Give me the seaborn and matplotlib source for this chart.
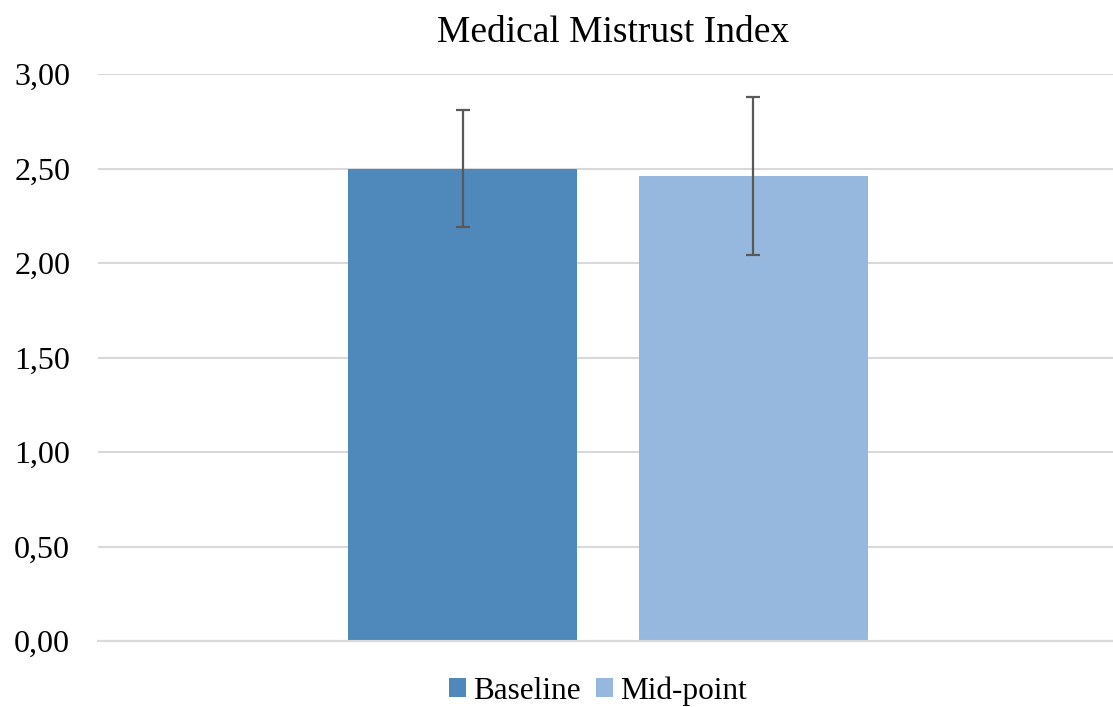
import matplotlib
matplotlib.use("Agg")
import matplotlib.pyplot as plt
import seaborn as sns
import pandas as pd
from matplotlib.patches import Patch

# Data
groups = ["Baseline", "Mid-point"]
means = [2.50, 2.46]
errors = [0.31, 0.42]
category = ["Medical Mistrust Index"]
colors = ["#4F89BC", "#97B8DE"]
yticks = [0.0, 0.5, 1.0, 1.5, 2.0, 2.5, 3.0]

sns.set_theme(style="white")
plt.rcParams["font.family"] = ["Liberation Serif", "DejaVu Serif"]
plt.rcParams["text.color"] = "black"
plt.rcParams["ytick.color"] = "black"

df = pd.DataFrame({"cat": category * len(groups), "group": groups, "value": means})

fig = plt.figure(figsize=(11.13, 7.07), dpi=100)
ax = fig.add_axes([98 / 1113, 1 - 641 / 707, 1 - 98 / 1113, (641 - 74) / 707])

sns.barplot(data=df, x="cat", y="value", hue="group", palette=colors,
            width=0.572, gap=0.211, errorbar=None, ax=ax, legend=False,
            saturation=1.0, linewidth=0)

# error bars at bar centres
bars = [p for p in ax.patches]
xs = [p.get_x() + p.get_width() / 2 for p in bars]
hs = [p.get_height() for p in bars]
ax.errorbar(xs, hs, yerr=errors, fmt="none", ecolor="#595959",
            elinewidth=1.6, capsize=5, capthick=1.6, zorder=5)

ax.set_xlim(-0.5025, 0.4975)
ax.set_ylim(0, 3.0)
ax.set_yticks(yticks)
ax.set_yticklabels([f"{v:.2f}".replace(".", ",") for v in yticks], fontsize=23,
                   color="black")
ax.tick_params(axis="y", length=0, pad=20)
ax.set_xticks([])
ax.set_xlabel("")
ax.set_ylabel("")
ax.yaxis.grid(True, color="#D9D9D9", linewidth=1.5)
ax.set_axisbelow(True)
for s in ["top", "right", "left"]:
    ax.spines[s].set_visible(False)
ax.spines["bottom"].set_color("#D9D9D9")
ax.spines["bottom"].set_linewidth(1.5)

fig.text(613 / 1113, 1 - 33 / 707, "Medical Mistrust Index", ha="center",
         va="center", fontsize=27, color="black")

handles = [Patch(facecolor=c, edgecolor="none", label=g) for g, c in zip(groups, colors)]
fig.legend(handles=handles, loc="center", bbox_to_anchor=(598 / 1113, 1 - 691 / 707),
           ncol=2, frameon=False, fontsize=22.5, handlelength=0.54, handleheight=0.54,
           handletextpad=0.22, columnspacing=0.5)

fig.savefig("out.png", dpi=100)
